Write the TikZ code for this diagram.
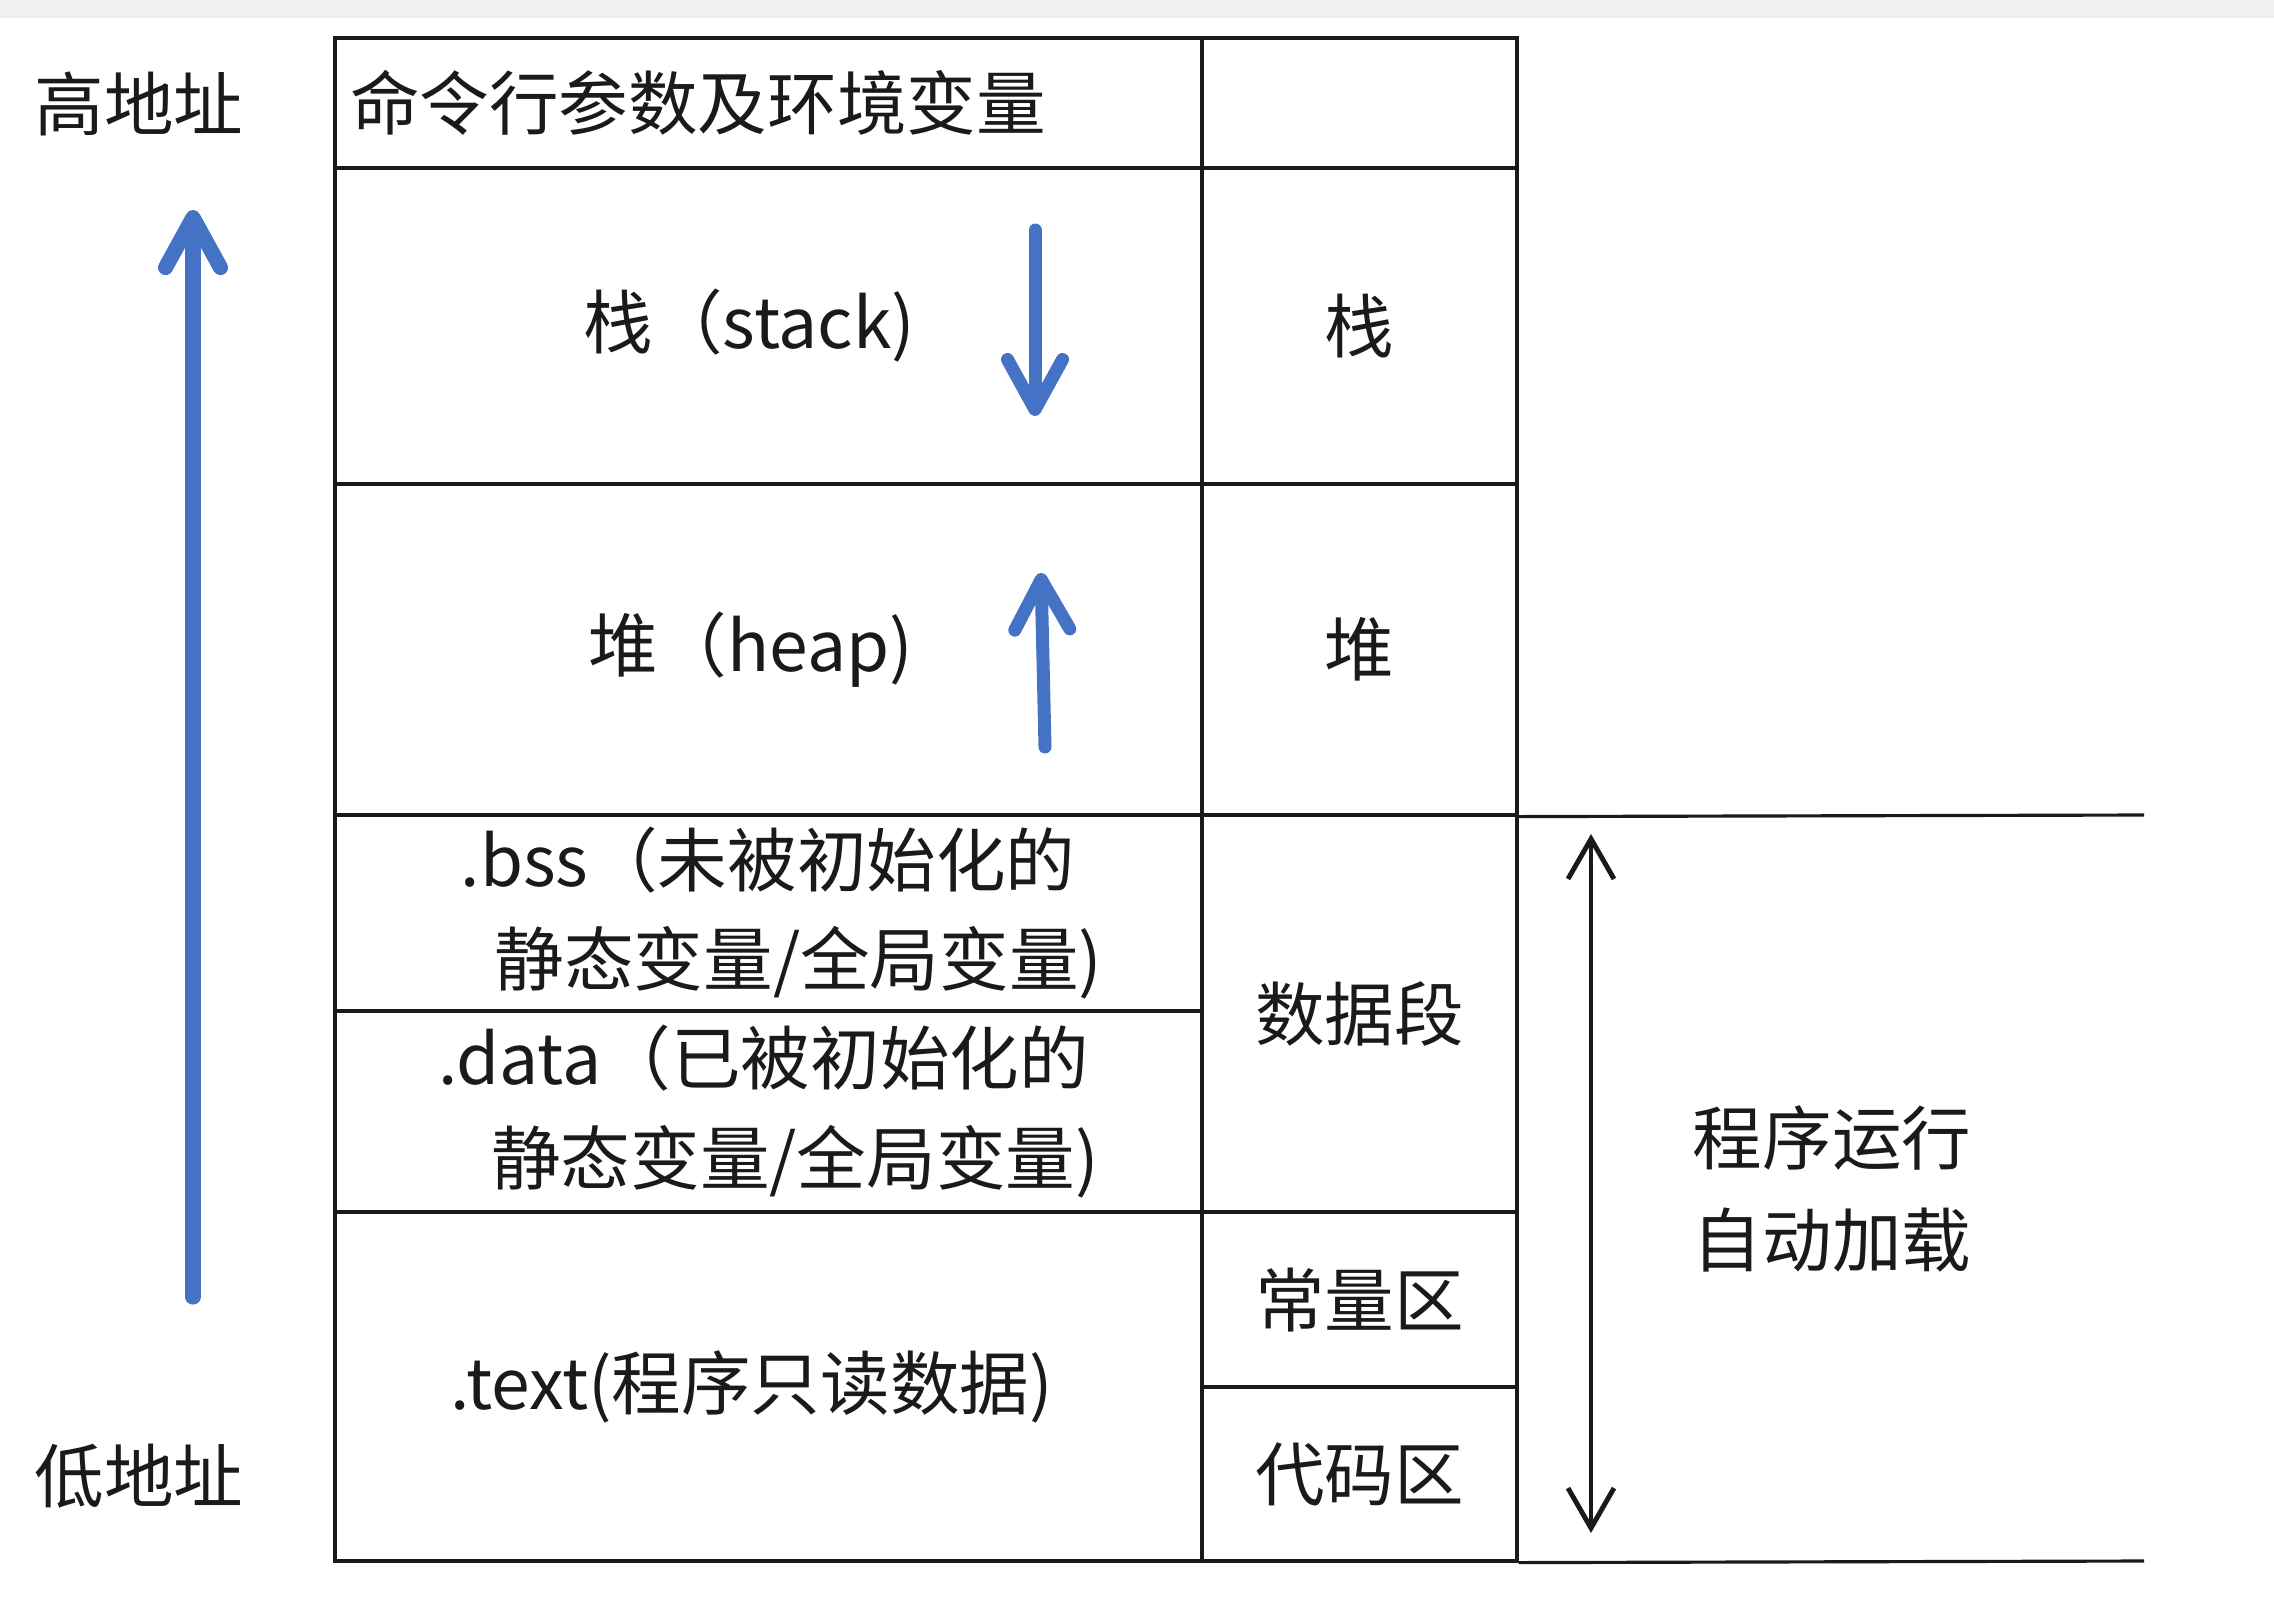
\documentclass[tikz,border=0pt]{standalone}
\usepackage{fontspec}
\setmainfont{Noto Sans CJK SC}
\usepackage{xcolor}
\usepackage{tikz}
\usetikzlibrary{arrows.meta,positioning}
\definecolor{memblue}{HTML}{4472C4}
\definecolor{memband}{HTML}{F0F0F0}
\definecolor{memink}{HTML}{1A1A1A}

\begin{document}
\begin{tikzpicture}[every node/.style={font=\fontsize{19.8}{28.4}\selectfont, align=center, text=memink},
  cell/.style={draw=memink, line width=0.9pt, inner sep=0pt},
  growarrow/.style={draw=memblue, line width=3.7pt, line cap=round, -{Straight Barb[length=5mm,width=5.5mm,round]}},
  loadarrow/.style={draw=memink, line width=1.4pt, {Straight Barb[length=4mm,width=4.6mm]}-{Straight Barb[length=4mm,width=4.6mm]}}]
  \useasboundingbox (0,0) rectangle (22.74,-16.10);
  \fill[memband] (0,0) rectangle (22.74,-0.175);

  % segments, low to high reading downwards
  \node[cell, minimum width=8.67cm, minimum height=1.30cm, text width=8.37cm, align=left, inner xsep=0.15cm] (args) at (7.685,-1.03) {命令行参数及环境变量};
  \node[cell, minimum width=8.67cm, minimum height=3.16cm] (stack) at (7.685,-3.26) {\hspace*{-0.38cm}栈（stack)};
  \node[cell, minimum width=8.67cm, minimum height=3.31cm] (heap) at (7.685,-6.495) {\hspace*{-0.36cm}堆（heap)};
  \node[cell, minimum width=8.67cm, minimum height=1.96cm, align=left] (bss) at (7.685,-9.13) {\hspace*{0.26cm}.bss（未被初始化的\\\hspace*{0.60cm}静态变量/全局变量)};
  \node[cell, minimum width=8.67cm, minimum height=2.01cm, align=left] (data) at (7.685,-11.115) {.data（已被初始化的\\\hspace*{0.53cm}静态变量/全局变量)};
  \node[cell, minimum width=8.67cm, minimum height=3.49cm] (text) at (7.685,-13.865) {\hspace*{-0.34cm}.text(程序只读数据)};

  % region names
  \node[cell, minimum width=3.15cm, minimum height=1.30cm] (argsR) at (13.595,-1.03) {};
  \node[cell, minimum width=3.15cm, minimum height=3.16cm] (stackR) at (13.595,-3.26) {栈};
  \node[cell, minimum width=3.15cm, minimum height=3.31cm] (heapR) at (13.595,-6.495) {堆};
  \node[cell, minimum width=3.15cm, minimum height=3.97cm] (dataseg) at (13.595,-10.135) {数据段};
  \node[cell, minimum width=3.15cm, minimum height=1.75cm] (constR) at (13.595,-12.995) {常量区};
  \node[cell, minimum width=3.15cm, minimum height=1.74cm] (codeR) at (13.595,-14.74) {代码区};

  \coordinate (heapend) at (21.44,-8.15);
  \coordinate (bottomend) at (21.44,-15.61);
  \draw[draw=memink, line width=0.9pt] (heapR.south east) -- (heapend);
  \draw[draw=memink, line width=0.9pt] (codeR.south east) -- (bottomend);

  % growth directions
  \coordinate (stacktop) at (10.35,-2.30);
  \coordinate (stacktip) at (10.35,-4.16);
  \coordinate (heapfoot) at (10.45,-7.47);
  \coordinate (heaptip) at (10.41,-5.73);
  \draw[growarrow] (stacktop) -- (stacktip);
  \draw[growarrow] (heapfoot) -- (heaptip);

  \node (high) at (1.39,-1.04) {高地址};
  \node (low) at (1.39,-14.76) {低地址};
  \coordinate (lowfoot) at (1.93,-12.97);
  \coordinate (hightip) at (1.93,-2.10);
  \draw[growarrow, line width=4.3pt] (lowfoot) -- (hightip);

  \coordinate (loadtop) at (15.91,-8.34);
  \coordinate (loadbot) at (15.91,-15.33);
  \draw[loadarrow] (loadtop) -- (loadbot);
  \node[font=\fontsize{19.8}{29}\selectfont] (autoload) at (18.32,-11.89) {程序运行\\自动加载};
\end{tikzpicture}
\end{document}
